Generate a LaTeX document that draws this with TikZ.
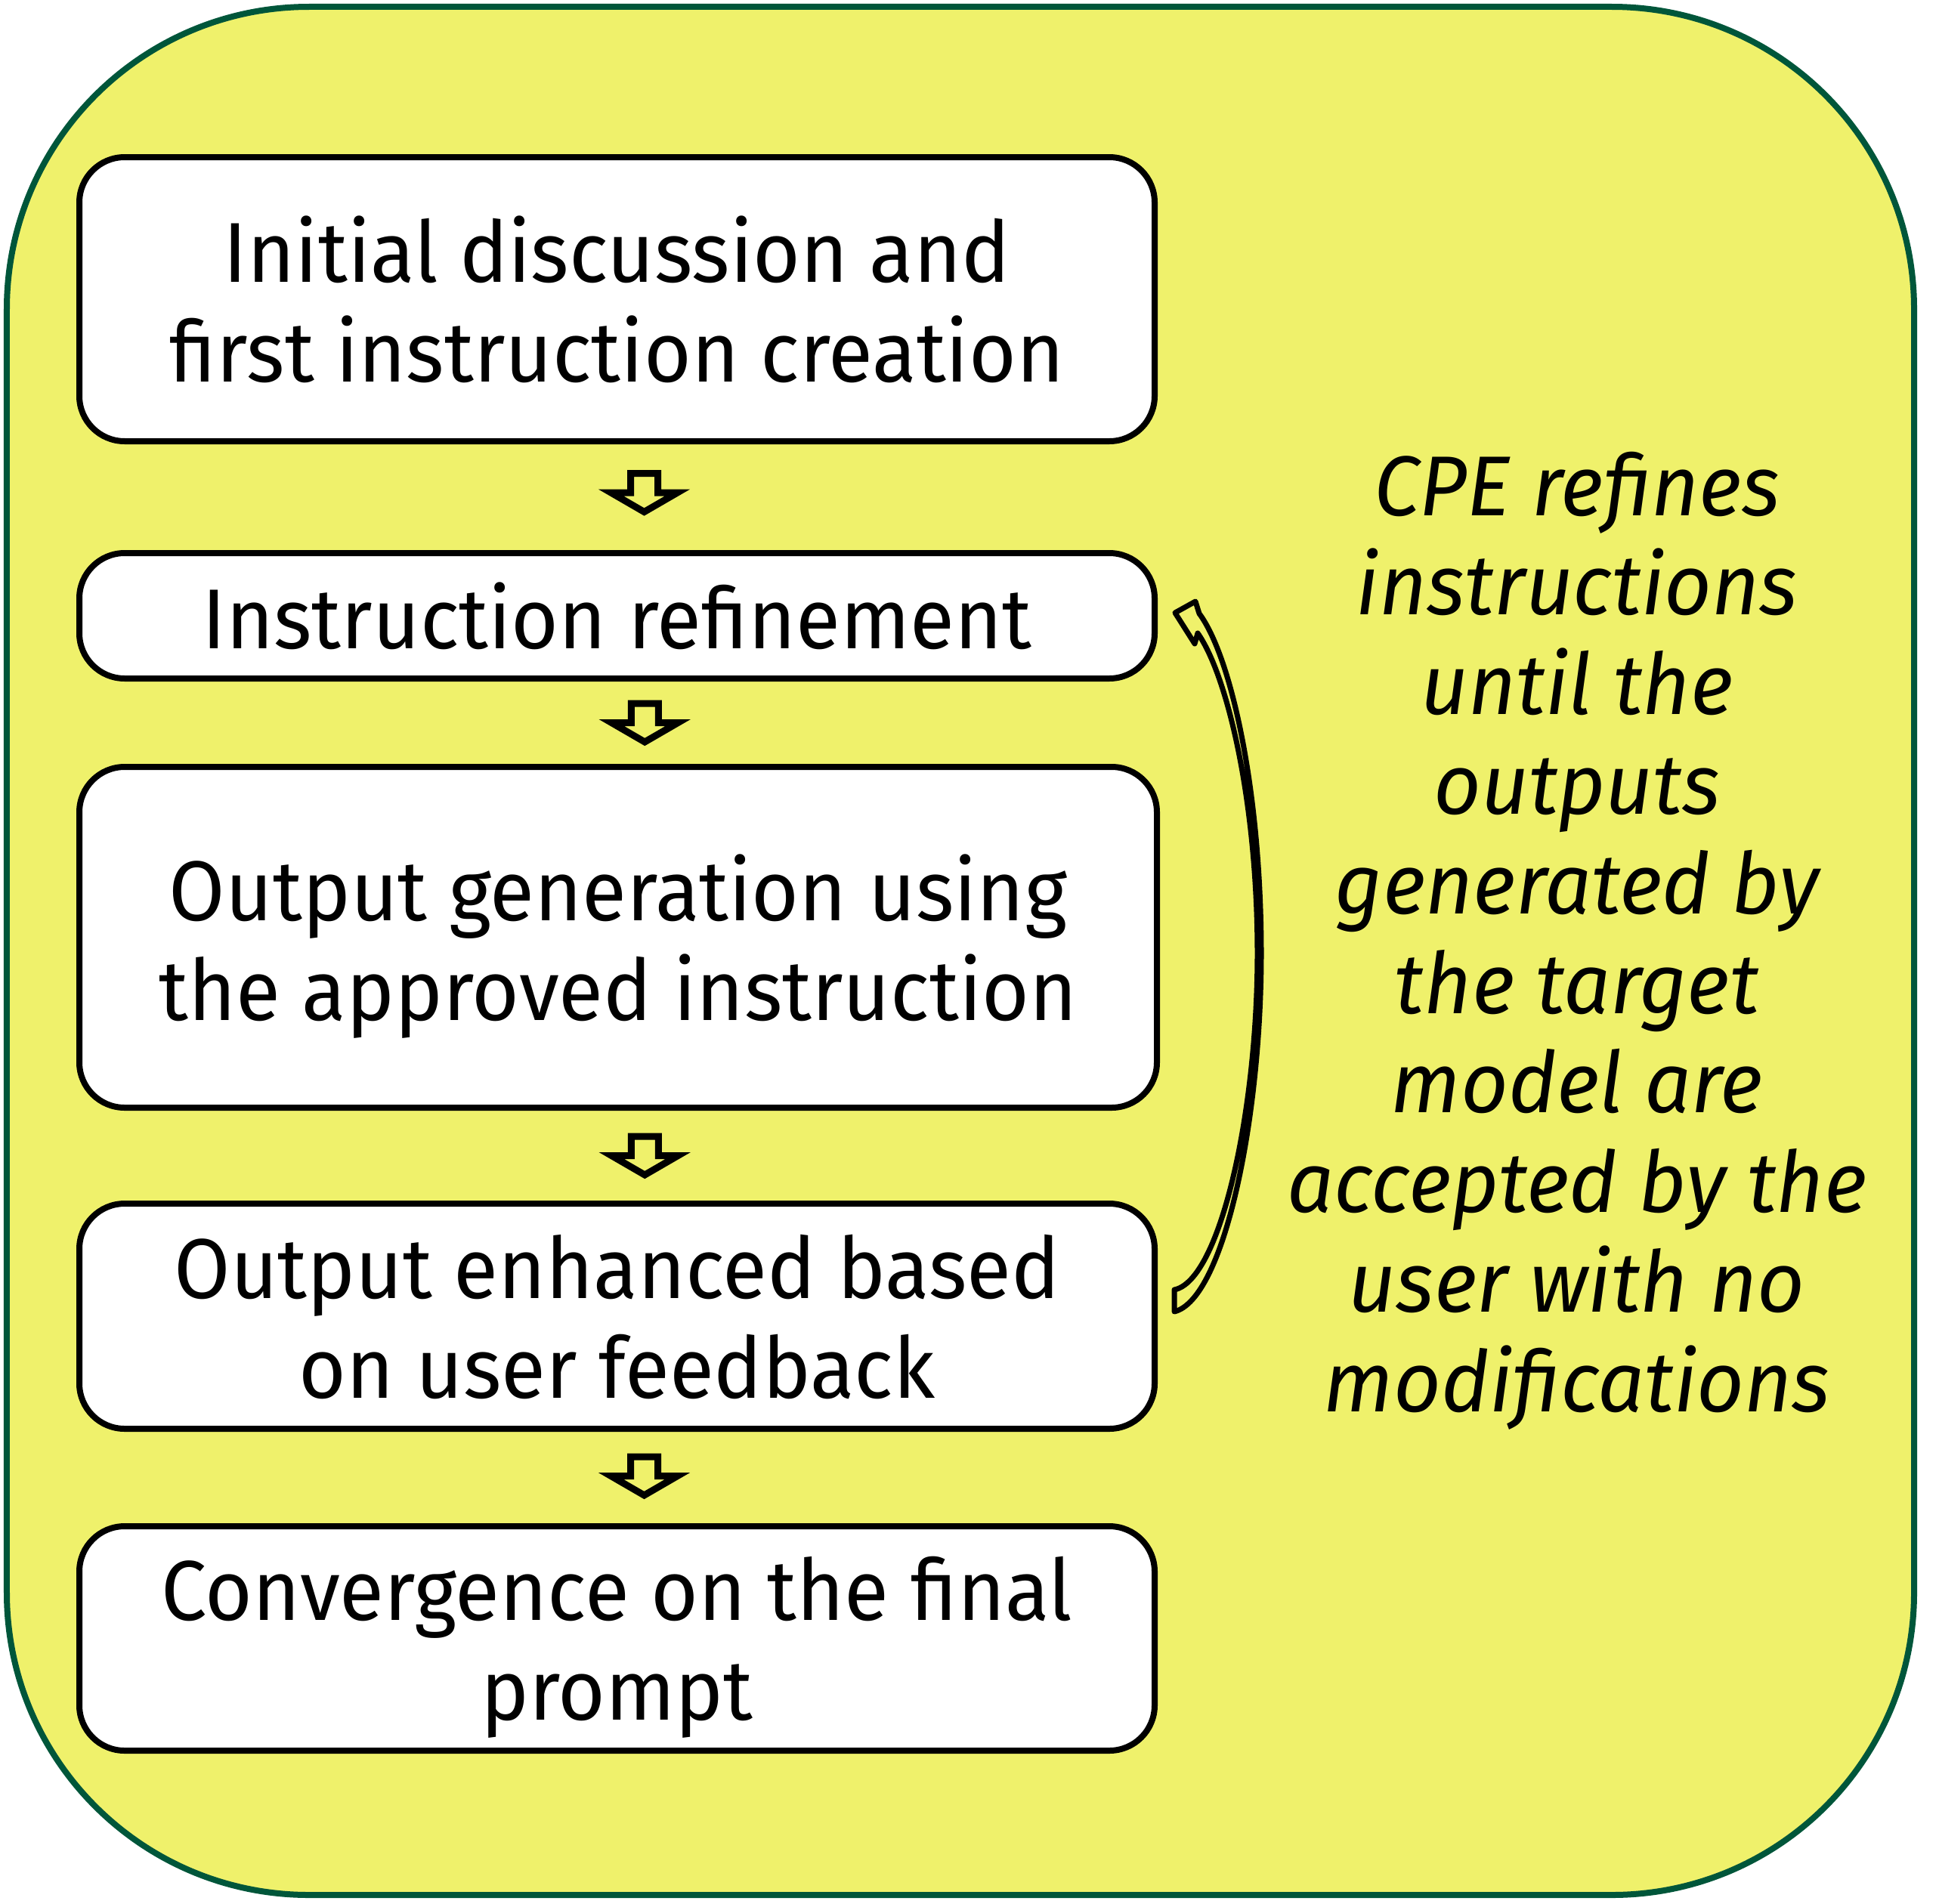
\documentclass[tikz,border=0pt]{standalone}
\usepackage{fontspec}
\setmainfont{Fira Sans}
\newfontfamily\notefont{Fira Sans}[FakeStretch=0.97]
\newfontfamily\stagefont{Fira Sans}[FakeStretch=0.958]
\usepackage{xcolor}
\usetikzlibrary{calc}

\definecolor{cpeyellow}{RGB}{239,241,107}
\definecolor{cpegreen}{RGB}{0,86,58}

\begin{document}
\begin{tikzpicture}[
  stage/.style={draw, fill=white, line width=0.08cm, rounded corners=0.6cm,
    minimum width=14.23cm, align=center, inner sep=0pt, text depth=0pt,
    font=\stagefont\fontsize{32}{37.5}\selectfont},
  note/.style={align=center, inner sep=0pt, font=\notefont\fontsize{32}{37.5}\selectfont\itshape},
  blockarr/.style={draw, fill=cpeyellow, line width=0.09cm, miter limit=10},
  loopback/.style={draw, fill=cpeyellow, line width=0.07cm, line join=round},
]
\useasboundingbox (0,0) rectangle (25.66,-25.20);

% panel
\draw[cpegreen, fill=cpeyellow, line width=0.08cm, rounded corners=4cm]
  (0.09,-0.09) rectangle (25.33,-25.08);

% stages
\node[stage, minimum height=3.76cm] (init) at (8.165,-3.96) {Initial discussion and\\first instruction creation};
\node[stage, minimum height=1.66cm] (refine) at (8.165,-8.15) {Instruction refinement};
\node[stage, minimum height=4.51cm, minimum width=14.26cm] (output) at (8.18,-12.405) {Output generation using\\the approved instruction};
\node[stage, minimum height=2.98cm] (feedback) at (8.165,-17.42) {Output enhanced based\\on user feedback};
\node[stage, minimum height=2.97cm] (final) at (8.165,-21.685) {Convergence on the final\\prompt};

% block arrows between stages
\foreach \a/\b/\dy in {init/refine/0.06, refine/output/0, output/feedback/0, feedback/final/0.02}
  \draw[blockarr, shift={($(\a.south)!0.5!(\b.north)+(0.36,\dy)$)}]
    (-0.18,0.255) -- (0.18,0.255) -- (0.18,0) -- (0.44,0) -- (0,-0.255)
    -- (-0.44,0) -- (-0.18,0) -- cycle;

% loop back from feedback to refinement
\draw[loopback]
  ([shift={(0.22,0.35)}]feedback.east)
  -- ([shift={(0.22,0.06)}]feedback.east)
  .. controls +(0.66,0.16) and +(0,-2.18) .. ([shift={(1.37,4.80)}]feedback.east)
  .. controls +(0,2.12) and +(0.43,-0.58) .. ([shift={(0.55,0.03)}]refine.east)
  -- ([shift={(0.50,0.19)}]refine.east)
  -- ([shift={(0.23,0.04)}]refine.east)
  -- ([shift={(0.49,-0.37)}]refine.east)
  -- ([shift={(0.53,-0.23)}]refine.east)
  .. controls +(0.40,-0.57) and +(0,1.98) .. ([shift={(1.32,4.80)}]feedback.east)
  .. controls +(0,-2.08) and +(0.61,0.12) .. ([shift={(0.22,0.35)}]feedback.east)
  -- cycle;

\node[note] (loopnote) at (20.87,-12.45) {CPE refines\\instructions\\until the\\outputs\\generated by\\the target\\model are\\accepted by the\\user with no\\modifications};

\end{tikzpicture}
\end{document}
